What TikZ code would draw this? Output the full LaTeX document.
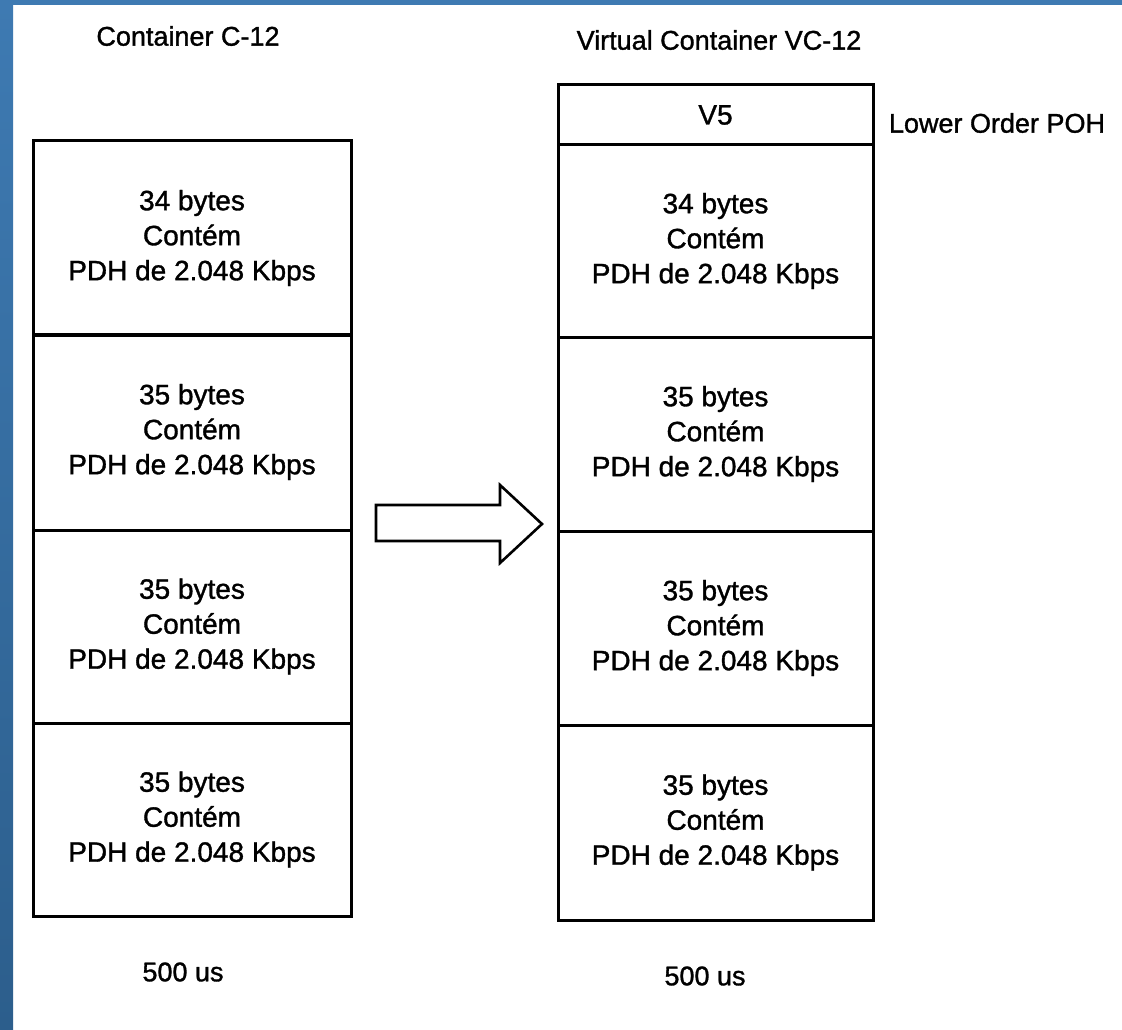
\documentclass[tikz,border=0pt]{standalone}
\usepackage{fontspec}
\setmainfont{Liberation Sans}
\newfontfamily\scanfont{Liberation Sans}[FakeBold=1.2]
\definecolor{frametop}{RGB}{62,122,178}
\definecolor{framebot}{RGB}{44,94,140}
\tikzset{
  seg/.style={draw=black, line width=3pt, inner sep=0pt, align=center,
    font=\scanfont\fontsize{28}{35}\selectfont},
  lbl/.style={inner sep=0pt, font=\scanfont\fontsize{27}{32}\selectfont},
  blockarrow/.style={draw=black, line width=2.6pt, fill=white, line join=miter}
}
\begin{document}
\begin{tikzpicture}[x=1pt,y=-1pt]
\useasboundingbox (0,0) rectangle (1122,1030);
\fill[white] (0,0) rectangle (1122,1030);
% blue frame
\shade[top color=frametop, bottom color=framebot] (0,0) rectangle (13,1030);
\fill[frametop] (0,0) rectangle (1122,5);

% titles
\node[lbl] (t1) at (188,36) {Container C-12};
\node[lbl] (t2) at (719,40) {Virtual Container VC-12};

% left container
\node[seg, minimum width=318pt, minimum height=194pt] (l1) at (192,238) {34 bytes\\Contém\\PDH de 2.048 Kbps};
\node[seg, minimum width=318pt, minimum height=196pt] (l2) at (192,432) {35 bytes\\Contém\\PDH de 2.048 Kbps};
\node[seg, minimum width=318pt, minimum height=193pt] (l3) at (192,626.5) {35 bytes\\Contém\\PDH de 2.048 Kbps};
\node[seg, minimum width=318pt, minimum height=193pt] (l4) at (192,819.5) {35 bytes\\Contém\\PDH de 2.048 Kbps};

% right container
\node[seg, minimum width=315pt, minimum height=60pt] (v5) at (715.5,115) {V5};
\node[seg, minimum width=315pt, minimum height=192pt] (r1) at (715.5,241) {34 bytes\\Contém\\PDH de 2.048 Kbps};
\node[seg, minimum width=315pt, minimum height=194pt] (r2) at (715.5,434) {35 bytes\\Contém\\PDH de 2.048 Kbps};
\node[seg, minimum width=315pt, minimum height=194pt] (r3) at (715.5,628) {35 bytes\\Contém\\PDH de 2.048 Kbps};
\node[seg, minimum width=315pt, minimum height=195pt] (r4) at (715.5,822.5) {35 bytes\\Contém\\PDH de 2.048 Kbps};

\node[lbl] (poh) at (997,123) {Lower Order POH};

% bottom labels
\node[lbl] (b1) at (183,972) {500 us};
\node[lbl] (b2) at (705,976) {500 us};

% block arrow
\draw[blockarrow] (376,505) -- (500,505) -- (500,485) -- (542,524) -- (500,563) -- (500,541) -- (376,541) -- cycle;
\end{tikzpicture}
\end{document}
